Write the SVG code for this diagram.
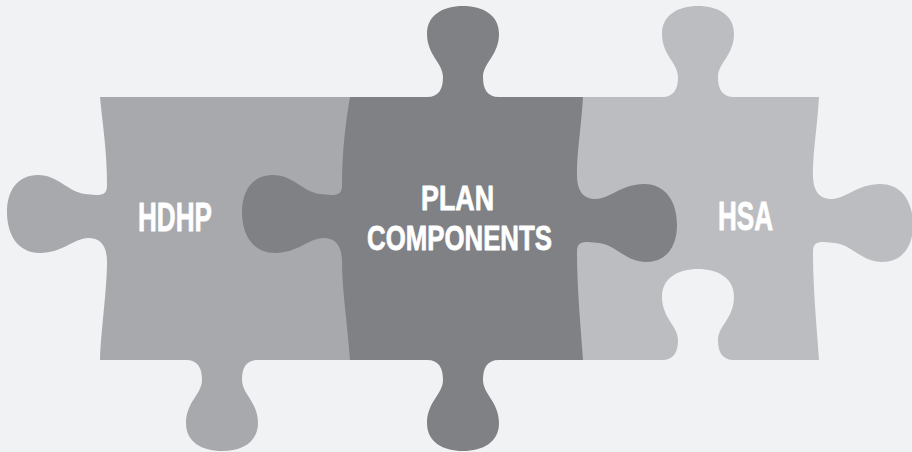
<svg xmlns="http://www.w3.org/2000/svg" width="912" height="452" viewBox="0 0 912 452">
  <style>
    .bg { fill: #f1f2f4; }
    .hdhp { fill: #a8a9ad; }
    .plan { fill: #808185; }
    .hsa { fill: #bcbdc0; }
    .label { font-family: "Liberation Sans", Arial, sans-serif; font-weight: bold; font-size: 41px; fill: #ffffff; stroke: #ffffff; stroke-width: 0.8; stroke-linejoin: round; text-anchor: middle; }
    .label-sm { font-size: 35px; }
  </style>
  <rect class="bg" x="0" y="0" width="912" height="452"/>

  <g id="piece-hdhp">
    <path class="hdhp" d="M100,97 L360,97 L360,360 L258,360
      C246,360 242,368 242,380 C242,394 258,402 258,423 C258,442 242,451 222,451
      C202,451 186,442 186,423 C186,402 202,394 202,380 C202,368 198,360 186,360
      L100,360 C101,330 107,290 107,262
      C107,245 100,238 88,238 C75,238 62,253 40,253 C18,253 7,235 7,212
      C7,190 18,175 38,175 C58,175 68,192 85,194 L96,195 C104,195 107,193 107,185
      C107,150 102,120 100,97 Z"/>
    <text class="label" x="175" y="231" textLength="74" lengthAdjust="spacingAndGlyphs">HDHP</text>
  </g>

  <g id="piece-hsa">
    <path class="hsa" d="M575,97 L662,97
      C674,97 678,89 678,77 C678,63 662,55 662,34 C662,15 678,6 698,6
      C718,6 734,15 734,34 C734,55 718,63 718,77 C718,89 722,97 734,97
      L819,97 C817,130 813,150 813,175
      C813,192 820,199 832,199 C845,199 858,184 880,184 C902,184 913,202 913,225
      C913,247 902,262 882,262 C862,262 852,245 835,243 L824,242 C816,242 813,244 813,252
      C813,290 817,330 819,360 L734,360
      C722,360 718,352 718,340 C718,326 734,318 734,297 C734,278 718,269 698,269
      C678,269 662,278 662,297 C662,318 678,326 678,340 C678,352 674,360 662,360
      L575,360 Z"/>
    <text class="label" x="745.5" y="230" textLength="55" lengthAdjust="spacingAndGlyphs">HSA</text>
  </g>

  <g id="piece-plan-components">
    <path class="plan" d="M350,97 L427,97
      C439,97 443,89 443,77 C443,63 427,55 427,34 C427,15 443,6 463,6
      C483,6 499,15 499,34 C499,55 483,63 483,77 C483,89 487,97 499,97
      L583,97 C581,130 577,150 577,175
      C577,192 584,199 596,199 C609,199 622,184 644,184 C666,184 677,202 677,225
      C677,247 666,262 646,262 C626,262 616,245 599,243 L588,242 C580,242 577,244 577,252
      C577,290 581,330 583,360 L499,360
      C487,360 483,368 483,380 C483,394 499,402 499,423 C499,442 483,451 463,451
      C443,451 427,442 427,423 C427,402 443,394 443,380 C443,368 439,360 427,360
      L350,360 C347,320 342,290 342,262
      C342,245 335,238 323,238 C310,238 297,253 275,253 C253,253 242,235 242,212
      C242,190 253,175 273,175 C293,175 303,192 320,194 L331,195 C339,195 342,193 342,185
      C342,150 346,120 350,97 Z"/>
    <text class="label label-sm" x="457.5" y="209.5" textLength="73" lengthAdjust="spacingAndGlyphs">PLAN</text>
    <text class="label label-sm" x="459.5" y="249.5" textLength="185" lengthAdjust="spacingAndGlyphs">COMPONENTS</text>
  </g>
</svg>
